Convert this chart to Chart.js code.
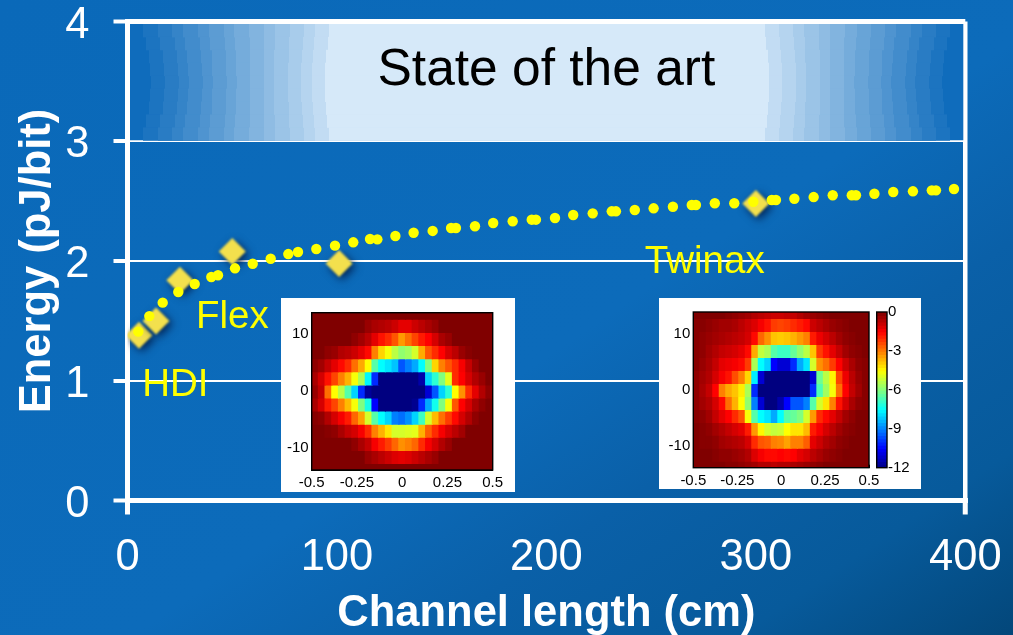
<!DOCTYPE html>
<html>
<head>
<meta charset="utf-8">
<title>Energy vs channel length</title>
<script src="https://cdn.jsdelivr.net/npm/chart.js@4/dist/chart.umd.min.js"></script>
<style>
  html, body { margin: 0; padding: 0; }
  body {
    width: 1013px; height: 635px; overflow: hidden; position: relative;
    background: linear-gradient(146deg, #0a69b9 0%, #0c6bba 55%, #0a60a8 70%, #075a9b 86%, #03477a 100%);
  }
  canvas { position: absolute; display: block; }
  .inset { position: absolute; background: #fff; }
</style>
</head>
<body>
<canvas id="mainChart" width="1013" height="635" style="left:0;top:0"></canvas>
<div class="inset" style="left:281px;top:298px;width:234px;height:194px">
  <canvas id="heatFlex" width="234" height="194" style="left:0;top:0"></canvas>
</div>
<div class="inset" style="left:659px;top:298px;width:262px;height:191px">
  <canvas id="heatTwinax" width="232" height="191" style="left:0;top:0"></canvas>
  <canvas id="colorBar" width="46" height="191" style="left:216px;top:0"></canvas>
</div>
<script>
// main chart data
var xTicks = [0, 100, 200, 300, 400];
var yTicks = [0, 1, 2, 3, 4];
var measuredPoints = [
  [5.5, 1.38], [13.6, 1.50], [25, 1.84], [50, 2.08], [101, 1.98], [300, 2.48]
];
var fitCurve = [
  [5.16,1.41],[10.41,1.54],[16.81,1.652],[24.25,1.741],[32.08,1.808],[40.01,1.866],[43.21,1.881],
  [51.33,1.939],[59.78,1.977],[68.37,2.019],[76.77,2.058],[81.4,2.075],[90.14,2.10],[99.07,2.128],
  [107.8,2.156],[115.8,2.184],[119.3,2.181],[127.9,2.209],[136.6,2.236],[145.7,2.251],[154.5,2.276],
  [156.8,2.276],[165.9,2.29],[174.6,2.317],[183.9,2.332],[193,2.345],[195,2.345],[204.1,2.359],
  [212.8,2.384],[222.1,2.398],[231.2,2.415],[233.2,2.415],[242.2,2.426],[251.2,2.44],[260.4,2.453],
  [269.4,2.468],[271.4,2.468],[280.4,2.482],[289.7,2.482],[298.8,2.495],[307.6,2.509],[309.6,2.509],
  [318.4,2.52],[327.6,2.534],[336.7,2.549],[345.8,2.549],[347.8,2.549],[356.6,2.562],[365.6,2.576],
  [375,2.582],[384,2.59],[386,2.59],[394.6,2.601]
];
var seriesLabels = [
  ['HDI', 7, 0.965], ['Flex', 32.7, 1.525], ['Twinax', 247, 1.985]
];
var bannerText = 'State of the art';

// eye diagram data, rows top to bottom, value in dB
var heatRows = [13.8, 11.5, 9.2, 6.9, 4.6, 2.3, 0, -2.3, -4.6, -6.9, -9.2, -11.5, -13.8];
var heatFlexValues = [
  [0,0,0,0,0,0,0,0,0,0,0,0,0,0,0,0,0,0,0,0,0,0,0,0,0,0,0],
  [0,0,0,0,0,0,0,0,-.3,-.5,-.6,-.7,-.9,-1.2,-1.2,-.9,-.7,-.5,-.3,0,0,0,0,0,0,0,0],
  [0,0,0,0,0,0,-.2,-.4,-.7,-1.2,-1.7,-2,-2.5,-3.3,-2.8,-2.3,-1.8,-1.5,-1,-.5,-.3,0,0,0,0,0,0],
  [0,0,-.2,-.3,-.6,-.7,-.9,-1.2,-1.6,-3,-4,-4.6,-5.3,-5.8,-5.6,-5,-3.5,-2.5,-2,-1.5,-1,-.7,-.3,-.1,0,0,0],
  [-.2,-.4,-.8,-1.2,-1.6,-2,-2.8,-3.5,-4.5,-6.5,-7.5,-7.8,-8.2,-9.5,-9,-8.5,-7.5,-6,-4,-3,-2.5,-2,-1.4,-.8,-.3,0,0],
  [-.5,-1,-1.7,-2.3,-3,-3.6,-4.6,-5.5,-7.6,-10,-12,-12,-12,-12,-12,-12,-11.5,-8,-7,-6,-4.8,-2,-1.5,-1,-.6,-.3,0],
  [-.3,-.8,-2.8,-4.5,-5.3,-6.5,-8,-10,-11.7,-12,-12,-12,-12,-12,-12,-12,-12,-11,-9.5,-8,-7,-4.5,-3.2,-2,-1.2,-.6,-.2],
  [-.5,-1,-1.8,-2.3,-3,-3.7,-4.6,-6,-7.2,-10.5,-12,-12,-12,-12,-12,-11.8,-10,-8.5,-7.3,-6,-4.6,-2.5,-1.5,-1,-.5,-.2,0],
  [-.1,-.2,-.6,-1,-1.4,-1.8,-2.7,-3.4,-5,-6.5,-7.5,-8,-9,-9.2,-8.8,-8,-6.8,-5,-3.7,-2.8,-2.2,-1.6,-1,-.6,-.2,0,0],
  [0,0,-.1,-.2,-.5,-.8,-1,-1.4,-2,-3,-3.6,-4.2,-5,-5,-4.9,-4.8,-3.6,-2.6,-2,-1.4,-1,-.7,-.4,0,0,0,0],
  [0,0,0,0,0,0,-.2,-.5,-.8,-1.4,-1.8,-2.2,-2.7,-3.2,-3,-2.7,-2,-1.4,-1,-.6,-.3,0,0,0,0,0,0],
  [0,0,0,0,0,0,0,0,-.3,-.5,-.7,-.9,-1.1,-1.2,-1.1,-.9,-.7,-.5,-.3,0,0,0,0,0,0,0,0],
  [0,0,0,0,0,0,0,0,0,0,0,0,0,0,0,0,0,0,0,0,0,0,0,0,0,0,0]
];
var heatTwinaxValues = [
  [0,0,0,0,0,-.1,-.2,-.3,-.4,-.6,-.7,-.8,-.9,-.9,-.8,-.8,-.6,-.4,-.3,-.2,-.1,0,0,0,0,0,0],
  [-.1,-.1,-.2,-.3,-.4,-.4,-.5,-.7,-.9,-1.1,-1.4,-1.7,-2.2,-2.3,-2.2,-2,-1.8,-1.6,-.9,-.7,-.5,-.3,-.2,-.1,0,0,0],
  [-.1,-.2,-.3,-.4,-.5,-.6,-.7,-.8,-1,-1.6,-2.7,-3.2,-3.8,-3.9,-3.8,-3.6,-3.3,-3,-1.8,-1.3,-1,-.7,-.4,-.2,-.1,0,0],
  [-.1,-.2,-.4,-.6,-.8,-.9,-1,-1.2,-1.6,-3.5,-5.2,-5.5,-6.5,-6.8,-6.8,-6.3,-5.8,-5.3,-3.8,-2.2,-1.7,-1.2,-.8,-.4,-.2,-.1,0],
  [-.1,-.3,-.5,-.8,-1.2,-1.3,-1.4,-1.6,-2.2,-5.5,-7.5,-8,-10.5,-11,-11,-10,-8.5,-7.8,-5,-3.2,-2.8,-2.2,-1.5,-.9,-.5,-.2,-.1],
  [-.2,-.4,-.6,-1,-1.4,-1.7,-2.4,-3,-4,-7.7,-11,-12,-12,-12,-12,-12,-12,-12,-11,-6.2,-5.3,-4.4,-2.3,-1.3,-.7,-.3,-.1],
  [-.2,-.5,-.8,-1.5,-3,-3.5,-3.8,-4.3,-5.5,-10,-12,-12,-12,-12,-12,-12,-12,-12,-10,-6.6,-5.6,-4.6,-2.8,-1.5,-.8,-.4,-.1],
  [-.2,-.4,-.6,-1,-1.6,-2.8,-3.6,-4.5,-5.8,-9,-11,-12,-12,-11.5,-10.5,-9.5,-9.5,-9,-6.5,-5,-4.2,-3,-1.7,-1,-.5,-.2,-.1],
  [-.1,-.2,-.4,-.8,-1.2,-1.5,-2,-2.5,-4.6,-6.5,-7.5,-7.8,-8.5,-7.5,-6.5,-6.3,-6,-5,-3.3,-2,-1.6,-1.2,-.8,-.4,-.2,0,0],
  [0,-.1,-.2,-.4,-.6,-.8,-1,-1.2,-1.8,-3.3,-4.4,-5,-5.2,-5.1,-4.5,-4.2,-4.2,-3.7,-1.8,-1.4,-1,-.7,-.4,-.2,-.1,0,0],
  [0,-.1,-.1,-.2,-.4,-.5,-.6,-.7,-1,-2,-2.5,-2.6,-3,-3.1,-3.4,-3,-3,-2.6,-1.2,-.9,-.6,-.4,-.2,-.1,0,0,0],
  [0,0,0,-.1,-.2,-.2,-.3,-.4,-.6,-1.1,-1.4,-1.6,-1.6,-1.5,-1.6,-1.5,-1.2,-1,-.7,-.5,-.3,-.2,-.1,0,0,0,0],
  [0,0,0,0,0,-.1,-.1,-.2,-.3,-.4,-.6,-.6,-.7,-.6,-.6,-.5,-.4,-.3,-.2,-.1,0,0,0,0,0,0,0]
];
var heatXTicks = [-0.5, -0.25, 0, 0.25, 0.5];
var heatYTicks = [-10, 0, 10];
var barLevels = [
  -0.125,-0.375,-0.625,-0.875,-1.125,-1.375,-1.625,-1.875,-2.125,-2.375,-2.625,-2.875,
  -3.125,-3.375,-3.625,-3.875,-4.125,-4.375,-4.625,-4.875,-5.125,-5.375,-5.625,-5.875,
  -6.125,-6.375,-6.625,-6.875,-7.125,-7.375,-7.625,-7.875,-8.125,-8.375,-8.625,-8.875,
  -9.125,-9.375,-9.625,-9.875,-10.125,-10.375,-10.625,-10.875,-11.125,-11.375,-11.625,-11.875
];
var barTicks = [0, -3, -6, -9, -12];

var FONT = '"Liberation Sans", Arial, sans-serif';

function clamp01(v) { return Math.max(0, Math.min(1, v)); }
function jet(v) {
  var t = (v + 12) / 12;
  var r = clamp01(1.5 - Math.abs(4 * t - 3));
  var g = clamp01(1.5 - Math.abs(4 * t - 2));
  var b = clamp01(1.5 - Math.abs(4 * t - 1));
  return 'rgb(' + Math.round(r * 255) + ',' + Math.round(g * 255) + ',' + Math.round(b * 255) + ')';
}

// tick labels may overhang the plot, so the layout must not reserve room for them
function noPad(s) { s.paddingTop = s.paddingBottom = s.paddingLeft = s.paddingRight = 0; }

// stepped fade behind the "State of the art" band
var bannerPlugin = {
  id: 'banner',
  beforeDatasetsDraw: function (chart) {
    var ctx = chart.ctx, xs = chart.scales.x, ys = chart.scales.y;
    var top = ys.getPixelForValue(4) + 2.5, bottom = ys.getPixelForValue(3) - 1;
    var left = xs.getPixelForValue(0) + 2.5, right = xs.getPixelForValue(400) - 2;
    var leftEdges = [141, 156, 171, 182, 197, 208, 223, 234, 249, 264, 275, 290, 304, 316, 330];
    var rightEdges = [952, 938, 923, 912, 897, 886, 872, 857, 845, 830, 819, 804, 793, 778, 764];
    var from = [15, 108, 188], to = [214, 233, 249], slices = 9;
    ctx.save();
    ctx.fillStyle = 'rgb(15,108,188)';
    ctx.fillRect(left, top, right - left, bottom - top);
    for (var i = 0; i < leftEdges.length; i++) {
      var f = (i + 1) / (leftEdges.length + 0.6);
      if (i === leftEdges.length - 1) f = 1;
      ctx.fillStyle = 'rgb(' + from.map(function (c, k) { return Math.round(c + (to[k] - c) * f); }).join(',') + ')';
      var bend = 10 - 15 * i / (leftEdges.length - 1);
      for (var s = 0; s < slices; s++) {
        var h = (bottom - top) / slices;
        var dx = Math.round(bend * Math.sin(Math.PI * (s + 0.5) / slices));
        ctx.fillRect(leftEdges[i] + dx, top + s * h, rightEdges[i] - leftEdges[i] - 2 * dx, h + 0.5);
      }
    }
    ctx.restore();
  },
  afterDatasetsDraw: function (chart) {
    var ctx = chart.ctx, xs = chart.scales.x, ys = chart.scales.y;
    ctx.save();
    ctx.textBaseline = 'middle';
    ctx.textAlign = 'center';
    ctx.fillStyle = '#000';
    ctx.font = '51.5px ' + FONT;
    ctx.fillText(bannerText, xs.getPixelForValue(200), ys.getPixelForValue(3.587));
    ctx.textAlign = 'left';
    ctx.fillStyle = '#ffff00';
    ctx.font = '38.5px ' + FONT;
    seriesLabels.forEach(function (l) {
      ctx.fillText(l[0], xs.getPixelForValue(l[1]), ys.getPixelForValue(l[2]));
    });
    ctx.restore();
  },
  beforeDatasetDraw: function (chart, args) {
    if (args.index === 1) {
      chart.ctx.save();
      chart.ctx.filter = 'blur(0.8px)';
      chart.ctx.shadowColor = 'rgba(0,25,70,0.9)';
      chart.ctx.shadowBlur = 8;
      chart.ctx.shadowOffsetX = 3;
      chart.ctx.shadowOffsetY = 3;
    }
  },
  afterDatasetDraw: function (chart, args) {
    if (args.index === 1) chart.ctx.restore();
  }
};

function endsOnly(ctx) { return ctx.tick.value === 0 || ctx.tick.value === 400; }

new Chart(document.getElementById('mainChart'), {
  type: 'scatter',
  data: {
    datasets: [
      {
        label: 'Fit',
        data: fitCurve.map(function (p) { return { x: p[0], y: p[1] }; }),
        pointRadius: 5.2,
        pointBackgroundColor: '#ffff00',
        pointBorderWidth: 0,
        order: 1
      },
      {
        label: 'Measured',
        data: measuredPoints.map(function (p) { return { x: p[0], y: p[1] }; }),
        pointStyle: 'rectRot',
        pointRadius: 13.5,
        pointBackgroundColor: '#f3e04d',
        pointBorderWidth: 0,
        order: 2
      }
    ]
  },
  options: {
    responsive: false,
    animation: false,
    layout: { autoPadding: false, padding: { left: 0, right: 47.7, top: 21.5, bottom: 0 } },
    plugins: { legend: { display: false }, tooltip: { enabled: false } },
    scales: {
      x: {
        type: 'linear', min: 0, max: 400,
        afterBuildTicks: function (s) { s.ticks = xTicks.map(function (v) { return { value: v }; }); },
        afterFit: function (s) { s.height = 134.5; noPad(s); },
        grid: {
          color: function (c) { return endsOnly(c) ? '#fff' : 'rgba(0,0,0,0)'; },
          lineWidth: function (c) { return c.tick.value === 0 ? 5 : 4.5; },
          tickColor: function (c) { return endsOnly(c) ? '#fff' : 'rgba(0,0,0,0)'; },
          tickWidth: 5, tickLength: 14
        },
        border: { color: '#fff', width: 5 },
        ticks: { color: '#fff', padding: 17, maxRotation: 0, autoSkip: false, font: { family: FONT, size: 43.5 } },
        title: { display: true, text: 'Channel length (cm)', color: '#fff', padding: { top: 0, bottom: 0 }, font: { family: FONT, size: 43.5, weight: 'bold', lineHeight: 0.95 } }
      },
      y: {
        type: 'linear', min: 0, max: 4,
        afterBuildTicks: function (s) { s.ticks = yTicks.map(function (v) { return { value: v }; }); },
        afterFit: function (s) { s.width = 127.5; noPad(s); },
        grid: {
          color: '#fff',
          lineWidth: function (c) { return (c.tick.value === 4 || c.tick.value === 0) ? 5 : 2; },
          tickColor: '#fff', tickWidth: 4, tickLength: 14
        },
        border: { color: '#fff', width: 5 },
        ticks: {
          color: '#fff', padding: 24, autoSkip: false,
          font: { family: FONT, size: 43.5, lineHeight: '8px' },
          // blank first line drops the digit by half a line, it sits a little low in the original
          callback: function (v) { return ['', String(v)]; }
        },
        title: { display: true, text: 'Energy (pJ/bit)', color: '#fff', padding: { top: 12, bottom: 0 }, font: { family: FONT, size: 43.5, weight: 'bold' } }
      }
    }
  },
  plugins: [bannerPlugin]
});

var framePlugin = {
  id: 'frame',
  afterDatasetsDraw: function (chart) {
    var a = chart.chartArea, ctx = chart.ctx;
    ctx.save();
    ctx.strokeStyle = '#000';
    ctx.lineWidth = 1.4;
    ctx.strokeRect(a.left, a.top, a.right - a.left, a.bottom - a.top);
    ctx.restore();
  }
};

// one floating bar per cell: a dataset is a row, a category is a column
function heatChart(id, values, rows, halfHeight, box, yAxis, xAxis) {
  var cols = values[0].map(function (_, i) { return i; });
  var scales = {
    x: { type: 'category', labels: cols, display: false, offset: true, grid: { display: false }, afterFit: noPad },
    y: {
      type: 'linear', position: yAxis.position, min: box.yMin, max: box.yMax, z: 1,
      afterBuildTicks: function (s) { s.ticks = yAxis.ticks.map(function (v) { return { value: v }; }); },
      afterFit: function (s) { s.width = box.axisWidth; noPad(s); },
      grid: { drawOnChartArea: false, color: '#000', tickColor: '#000', tickLength: -3, tickWidth: 1 },
      border: { color: '#000', width: 1 },
      ticks: { color: '#000', padding: yAxis.padding, autoSkip: false, font: { family: FONT, size: yAxis.size } }
    }
  };
  if (xAxis) {
    scales.xTicks = {
      type: 'linear', position: 'bottom', min: -0.5, max: 0.5, z: 1, offset: false,
      afterBuildTicks: function (s) { s.ticks = xAxis.ticks.map(function (v) { return { value: v }; }); },
      afterFit: function (s) { s.height = box.axisHeight; noPad(s); },
      grid: { offset: false, drawOnChartArea: false, color: '#000', tickColor: '#000', tickLength: -3, tickWidth: 1 },
      border: { color: '#000', width: 1 },
      ticks: {
        color: '#000', padding: xAxis.padding, maxRotation: 0, autoSkip: false,
        font: { family: FONT, size: 15 },
        callback: function (v) { return String(v); }
      }
    };
  }
  return new Chart(document.getElementById(id), {
    type: 'bar',
    data: {
      labels: cols,
      datasets: values.map(function (row, r) {
        return {
          data: row.map(function () { return [rows[r] - halfHeight, rows[r] + halfHeight]; }),
          backgroundColor: row.map(jet),
          borderWidth: 0,
          inflateAmount: 0.6,
          grouped: false,
          barPercentage: 1,
          categoryPercentage: 1
        };
      })
    },
    options: {
      responsive: false,
      animation: false,
      layout: { autoPadding: false, padding: box.padding },
      plugins: { legend: { display: false }, tooltip: { enabled: false } },
      scales: scales
    },
    plugins: [framePlugin]
  });
}

var heatYAxis = { position: 'left', ticks: heatYTicks, padding: 6, size: 15 };
var heatXAxis = { ticks: heatXTicks, padding: 7 };

heatChart('heatFlex', heatFlexValues, heatRows, 1.15,
  { yMin: -13.8, yMax: 13.8, axisWidth: 30.7, axisHeight: 22, padding: { top: 14.7, right: 22.3, bottom: 0, left: 0 } },
  heatYAxis, heatXAxis);

heatChart('heatTwinax', heatTwinaxValues, heatRows, 1.15,
  { yMin: -13.8, yMax: 13.8, axisWidth: 34.3, axisHeight: 21.3, padding: { top: 14, right: 22, bottom: 0, left: 0 } },
  heatYAxis, heatXAxis);

heatChart('colorBar', barLevels.map(function (v) { return [v]; }), barLevels, 0.14,
  { yMin: -12, yMax: 0, axisWidth: 34, axisHeight: 0, padding: { top: 14, right: 0, bottom: 21.3, left: 1.7 } },
  { position: 'right', ticks: barTicks, padding: 4, size: 15 }, null);
</script>
</body>
</html>
